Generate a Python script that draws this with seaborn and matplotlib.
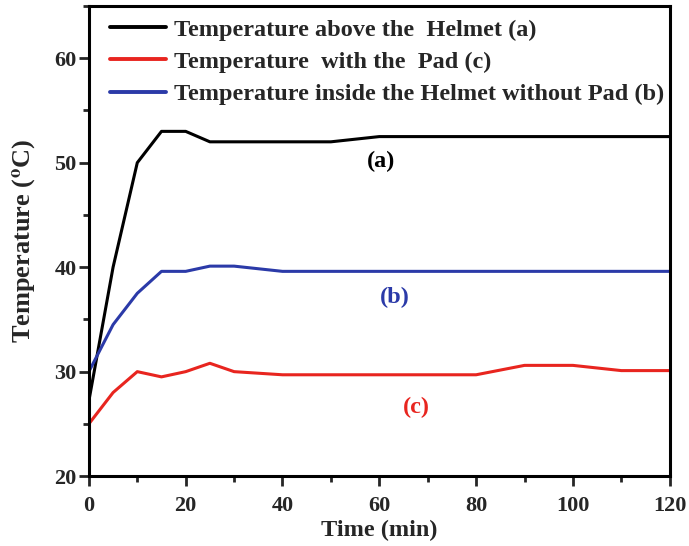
import numpy as np
import pandas as pd
import matplotlib
matplotlib.use("Agg")
import matplotlib.pyplot as plt
import seaborn as sns
from matplotlib.ticker import MultipleLocator

# Time points (min) and measured temperatures (°C)
time_a = [0, 5, 10, 15, 20, 25, 30, 40, 50, 60, 70, 80, 90, 100, 110, 120]
temp_a = [27.2, 40.0, 50.0, 53.0, 53.0, 52.0, 52.0, 52.0, 52.0, 52.5, 52.5, 52.5, 52.5, 52.5, 52.5, 52.5]

time_c = [0, 5, 10, 15, 20, 25, 30, 40, 50, 60, 70, 80, 90, 100, 110, 120]
temp_c = [25.0, 28.0, 30.0, 29.5, 30.0, 30.8, 30.0, 29.7, 29.7, 29.7, 29.7, 29.7, 30.6, 30.6, 30.1, 30.1]

time_b = [0, 5, 10, 15, 20, 25, 30, 40, 50, 60, 70, 80, 90, 100, 110, 120]
temp_b = [30.0, 34.5, 37.5, 39.6, 39.6, 40.1, 40.1, 39.6, 39.6, 39.6, 39.6, 39.6, 39.6, 39.6, 39.6, 39.6]

series_names = [
    "Temperature above the  Helmet (a)",
    "Temperature  with the  Pad (c)",
    "Temperature inside the Helmet without Pad (b)",
]
series_colors = ["#000000", "#e8251f", "#2b3aa8"]

# curve tags and where they sit (time, temperature)
tag_text = ["(a)", "(b)", "(c)"]
tag_x = [60.4, 63.3, 67.6]
tag_y = [50.1, 37.1, 26.6]
tag_colors = ["#000000", "#2b3aa8", "#e8251f"]

df = pd.concat([
    pd.DataFrame({"Time": time_a, "Temp": temp_a, "Series": series_names[0]}),
    pd.DataFrame({"Time": time_c, "Temp": temp_c, "Series": series_names[1]}),
    pd.DataFrame({"Time": time_b, "Temp": temp_b, "Series": series_names[2]}),
], ignore_index=True)

sns.set_style("ticks")
plt.rcParams["font.family"] = ["Liberation Serif", "DejaVu Serif"]
plt.rcParams["font.weight"] = "bold"
plt.rcParams["mathtext.fontset"] = "stix"

fig = plt.figure(figsize=(6.89, 5.46), dpi=100)
ax = fig.add_axes([0.129, 0.128, 0.843, 0.861])

sns.lineplot(data=df, x="Time", y="Temp", hue="Series", hue_order=series_names,
             palette=dict(zip(series_names, series_colors)), linewidth=2.2,
             ax=ax, legend=True, sort=False)

ax.set_xlim(0, 120)
ax.set_ylim(20, 65)
ax.xaxis.set_major_locator(MultipleLocator(20))
ax.xaxis.set_minor_locator(MultipleLocator(10))
ax.yaxis.set_minor_locator(MultipleLocator(5))
ax.set_yticks([20, 30, 40, 50, 60])

for s in ax.spines.values():
    s.set_linewidth(2.2)
    s.set_color("black")
ax.tick_params(axis="both", which="major", direction="out", length=7, width=2,
               labelsize=16)
ax.tick_params(axis="x", which="major", pad=7)
ax.tick_params(axis="y", which="major", pad=2)
ax.tick_params(axis="both", which="minor", direction="out", length=4.5, width=2)
for lbl in ax.get_xticklabels() + ax.get_yticklabels():
    lbl.set_fontweight("bold")

ax.set_xlabel("Time (min)", fontsize=17.5, fontweight="bold", labelpad=3)
ax.set_ylabel(r"Temperature ($^{\mathbf{o}}$C)", fontsize=19, fontweight="bold", labelpad=11)

leg = ax.legend(loc="upper left", bbox_to_anchor=(0.012, 1.004), frameon=False,
                prop={"family": "Liberation Serif", "weight": "bold", "size": 17.5},
                handlelength=2.3, handletextpad=0.3, labelspacing=0.42,
                borderaxespad=0.3, borderpad=0.3)
for line in leg.get_lines():
    line.set_linewidth(2.8)

for t, x, y, c in zip(tag_text, tag_x, tag_y, tag_colors):
    ax.text(x, y, t, color=c, fontsize=17.5, fontweight="bold",
            ha="center", va="center")

fig.savefig("out.png", dpi=100)
